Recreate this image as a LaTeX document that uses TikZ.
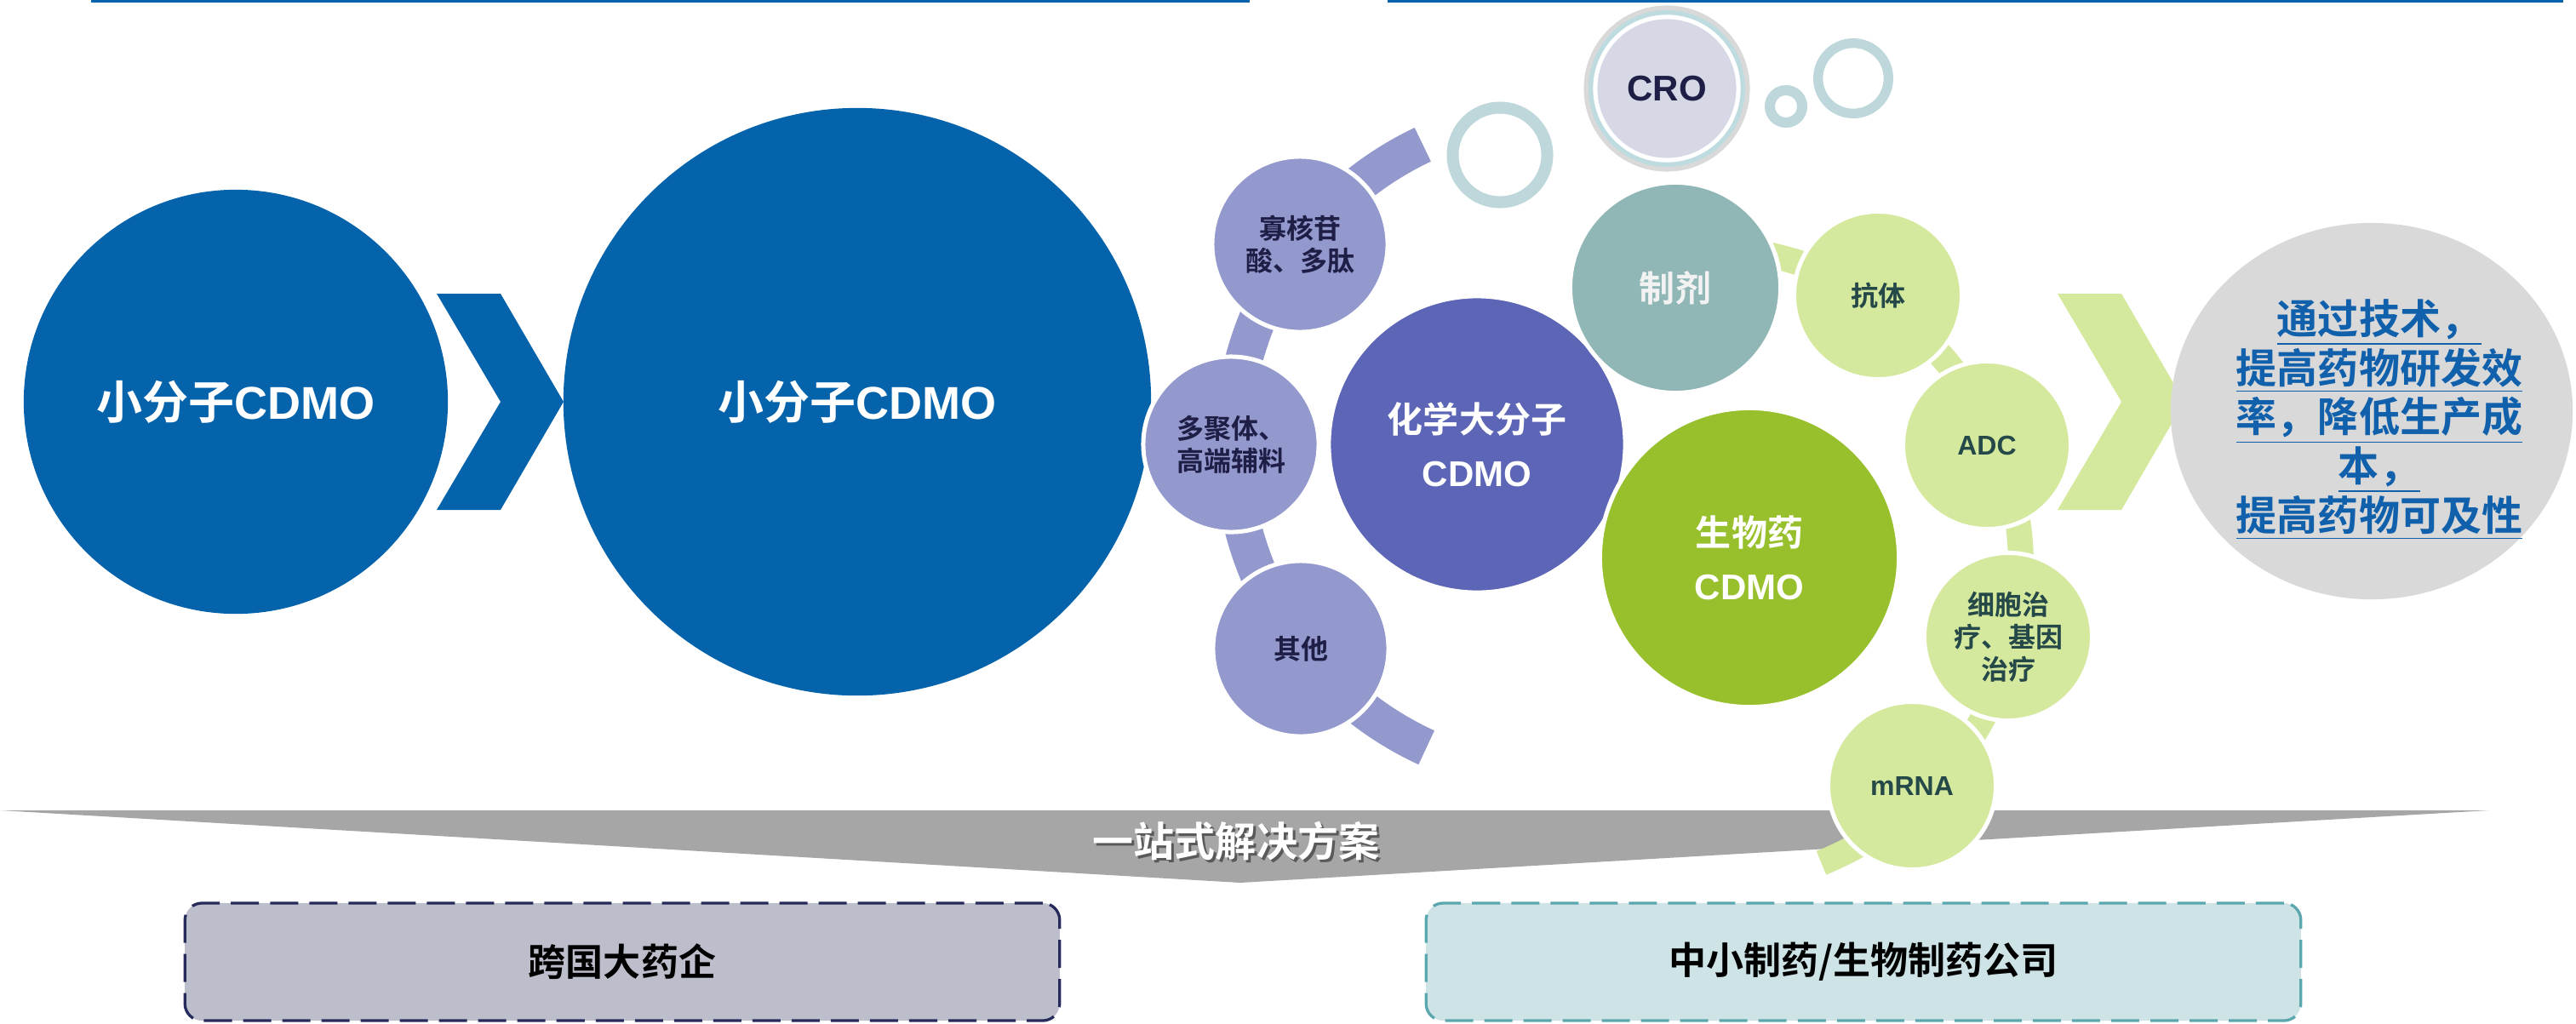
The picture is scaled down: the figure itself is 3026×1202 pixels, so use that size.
\documentclass[tikz,border=0pt]{standalone}
\usepackage{fontspec}
\usepackage{tikz}
\usetikzlibrary{shapes.geometric}
\setmainfont{Liberation Sans}
\newfontfamily\cjk{Noto Sans CJK SC}[BoldFont=* Bold]
\definecolor{cblue}{HTML}{0563AC}
\definecolor{plight}{HTML}{9398CD}
\definecolor{pdeep}{HTML}{5C65B6}
\definecolor{pnavy}{HTML}{1E1E46}
\definecolor{fteal}{HTML}{90B7B6}
\definecolor{mgreen}{HTML}{97C02C}
\definecolor{glight}{HTML}{D5E99E}
\definecolor{gtext}{HTML}{254848}
\definecolor{ringc}{HTML}{BDD7DA}
\definecolor{crogray}{HTML}{D9D9D9}
\definecolor{croblue}{HTML}{BEDCE0}
\definecolor{crofill}{HTML}{D6D8E6}
\definecolor{solgray}{HTML}{A6A6A6}
\definecolor{tblue}{HTML}{1060AC}
\definecolor{boxL}{HTML}{BCBECB}
\definecolor{lineL}{HTML}{262B5C}
\definecolor{boxR}{HTML}{CDE3E6}
\definecolor{lineR}{HTML}{5BA7AE}

\begin{document}
\begin{tikzpicture}[x=0.01cm, y=-0.01cm, every node/.style={inner sep=0pt},
  big/.style={circle, fill=cblue, text=white, font=\fontsize{15.36pt}{18pt}\selectfont\bfseries},
  core/.style={circle, draw=white, line width=0.05cm, text=white, align=center, font=\fontsize{11.95pt}{17.9pt}\selectfont\bfseries},
  sub/.style={circle, fill=plight, draw=white, line width=0.05cm, minimum size=2.06cm, text=pnavy, align=center, font=\fontsize{9.1pt}{10.8pt}\selectfont\bfseries\cjk},
  bio/.style={circle, fill=glight, draw=white, line width=0.05cm, minimum size=1.97cm, text=gtext, align=center, font=\fontsize{9.1pt}{10.8pt}\selectfont\bfseries},
  bioc/.style={bio, font=\fontsize{9.1pt}{10.8pt}\selectfont\bfseries\cjk},
  ring/.style={circle, draw=ringc},
  client/.style={rectangle, rounded corners=0.2cm, line width=0.033cm, dash pattern=on 0.33cm off 0.13cm, minimum width=10.27cm, minimum height=1.38cm, font=\fontsize{12.52pt}{14pt}\selectfont\bfseries\cjk},
  chev/.pic={\fill (0,0) -- (75,0) -- (149,127) -- (75,254) -- (0,254) -- (75,127) -- cycle;}]
\useasboundingbox (0,0) rectangle (3026,1202);
\draw[cblue, line width=0.03cm] (107,1.5) -- (1468,1.5);
\draw[cblue, line width=0.03cm] (1630,1.5) -- (3011,1.5);
\fill[solgray] (0,952) -- (2924,952) -- (1457,1037) -- cycle;
\node[text=black!65, font=\fontsize{13.66pt}{16pt}\selectfont\bfseries\cjk] (Ss) at (1455,991) {一站式解决方案};
\node[text=white, font=\fontsize{13.66pt}{16pt}\selectfont\bfseries\cjk] (S) at (1452,988) {一站式解决方案};
\node[big, minimum size=4.98cm] (A) at (277,472) {{\cjk 小分子}CDMO};
\pic[color=cblue] at (513,345) {chev};
\node[big, minimum size=6.9cm] (B) at (1007,472) {{\cjk 小分子}CDMO};
\coordinate (PO) at (1839,523);
\draw[plight, line width=0.44cm] (PO) ++(-115.4:391) arc[start angle=-115.4, end angle=-245.3, radius=391];
\node[sub] (P1) at (1527,287) {寡核苷\\酸、多肽};
\node[sub] (P2) at (1446,522) {多聚体、\\高端辅料};
\node[sub] (P3) at (1528,762) {其他};
\node[ring, line width=0.14cm, minimum size=1.11cm] (R1) at (1762,182) {};
\node[ring, line width=0.12cm, minimum size=0.38cm] (R2) at (2098,125) {};
\node[ring, line width=0.113cm, minimum size=0.826cm] (R3) at (2177,92) {};
\node[circle, fill=crofill, minimum size=1.63cm, preaction={draw=crogray, line width=0.32cm}, preaction={draw=croblue, line width=0.21cm}, preaction={draw=white, line width=0.102cm}, text=pnavy, font=\fontsize{11.95pt}{14pt}\selectfont\bfseries] (R) at (1958,104) {CRO};
\coordinate (GO) at (1999,666);
\draw[glight, line width=0.3cm] (GO) ++(-85:375) arc[start angle=-85, end angle=68, radius=375];
\node[core, fill=pdeep, minimum size=3.48cm] (C) at (1735,522) {{\cjk 化学大分子}\\CDMO};
\node[core, fill=fteal, text=white!95!black, minimum size=2.47cm, font=\fontsize{11.95pt}{14pt}\selectfont\bfseries\cjk] (F) at (1968,338) {制剂};
\node[core, fill=mgreen, minimum size=3.51cm] (M) at (2055,655) {{\cjk 生物药}\\CDMO};
\node[bioc] (G1) at (2206,347) {抗体};
\node[bio] (G2) at (2334,523) {ADC};
\node[bioc] (G3) at (2359,748) {细胞治\\疗、基因\\治疗};
\node[bio] (G4) at (2246,923) {mRNA};
\pic[color=glight] at (2417,345) {chev};
\node[ellipse, fill=crogray, minimum width=4.72cm, minimum height=4.42cm] (E) at (2786,483) {};
\node[text=tblue, align=center, font=\fontsize{13.66pt}{16.39pt}\selectfont\bfseries\cjk] (T) at (2795,493) {\underline{通过技术，}\\\underline{提高药物研发效}\\\underline{率，降低生产成}\\\underline{本，}\\\underline{提高药物可及性}};
\node[client, draw=lineL, fill=boxL] (L) at (731,1130) {跨国大药企};
\node[client, draw=lineR, fill=boxR] (K) at (2189,1130) {中小制药/生物制药公司};
\end{tikzpicture}
\end{document}
